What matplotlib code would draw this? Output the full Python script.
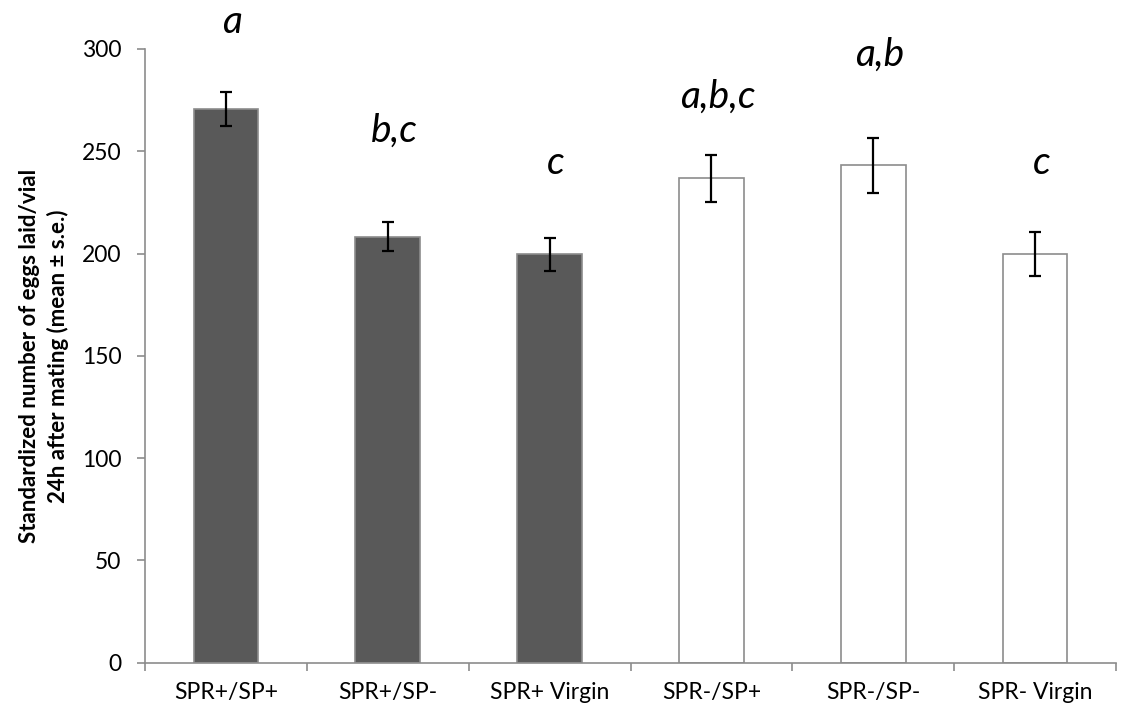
import numpy as np
import matplotlib
matplotlib.use("Agg")
import matplotlib.pyplot as plt

plt.rcParams['font.family'] = ['Lato', 'DejaVu Sans']

groups = ["SPR+/SP+", "SPR+/SP-", "SPR+ Virgin", "SPR-/SP+", "SPR-/SP-", "SPR- Virgin"]
means = [270.8, 208.2, 199.6, 236.8, 243.1, 199.8]
errors = [8.3, 7.0, 8.0, 11.5, 13.3, 10.9]
letters = ["a", "b,c", "c", "a,b,c", "a,b", "c"]
letter_y = [313, 260, 244, 276.5, 297, 244]

fill = ["#595959"] * 3 + ["white"] * 3
grey = "#8c8c8c"

fig = plt.figure(figsize=(11.22, 7.18), dpi=100)
ax = fig.add_axes([0.1292, 0.077, 0.8655, 0.8549])

x = np.arange(len(groups))
ax.bar(x, means, width=0.4, color=fill, edgecolor=grey, linewidth=1.2, zorder=2)
ax.errorbar(x, means, yerr=errors, fmt='none', ecolor='black', elinewidth=1.6,
            capsize=4.3, capthick=1.6, zorder=3)

for i in range(len(groups)):
    ax.text(x[i] + 0.04, letter_y[i], letters[i], ha='center', va='center',
            fontsize=28, style='italic', clip_on=False)

ax.set_xlim(-0.5, len(groups) - 0.5)
ax.set_ylim(0, 300)
ax.set_yticks(np.arange(0, 301, 50))
ax.set_xticks(x)
ax.set_xticklabels(groups)
ax.set_xticks(np.arange(-0.5, len(groups), 1), minor=True)
ax.tick_params(axis='x', which='major', length=0, pad=14, labelsize=16.5)
ax.tick_params(axis='x', which='minor', length=6, width=1.2, color=grey, direction='out')
ax.tick_params(axis='y', length=6, width=1.2, color=grey, labelsize=16.5, pad=11)

for s in ['top', 'right']:
    ax.spines[s].set_visible(False)
for s in ['left', 'bottom']:
    ax.spines[s].set_color(grey)
    ax.spines[s].set_linewidth(1.2)

ax.set_ylabel("Standardized number of eggs laid/vial\n24h after mating (mean \u00b1 s.e.)",
              fontsize=16, fontweight='bold', linespacing=1.4)
ax.yaxis.set_label_coords(-0.078, 0.5)

fig.savefig("out.png", dpi=100)
